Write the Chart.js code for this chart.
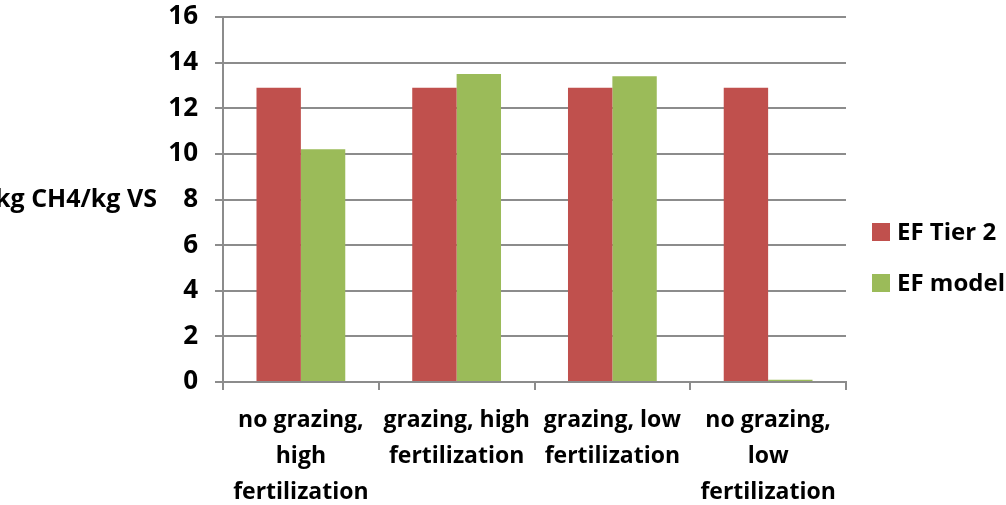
<!DOCTYPE html>
<html lang="en">
<head>
    <meta charset="UTF-8">
    <title>EF Tier 2 vs EF model</title>
    <script src="https://cdn.jsdelivr.net/npm/chart.js@4.4.1/dist/chart.umd.min.js"></script>
    <style>
        html, body {
            margin: 0;
            padding: 0;
            background: #fff;
        }
        .chart-box {
            position: relative;
            width: 1006px;
            height: 505px;
        }
    </style>
</head>
<body>
    <div class="chart-box">
        <canvas id="efChart"></canvas>
    </div>

    <script>
        // data
        const categories = [
            ['no grazing,', 'high', 'fertilization'],
            ['grazing, high', 'fertilization'],
            ['grazing, low', 'fertilization'],
            ['no grazing,', 'low', 'fertilization']
        ];
        const seriesNames = ['EF Tier 2', 'EF model'];
        const efTier2 = [12.9, 12.9, 12.9, 12.9];
        const efModel = [10.2, 13.5, 13.4, 0.1];
        const yTicks = [0, 2, 4, 6, 8, 10, 12, 14, 16];
        const yTitle = 'kg CH4/kg VS';

        const FONT = '"Open Sans", Calibri, Lato, sans-serif';
        const GRID = '#8c8c8c';

        // horizontal axis title on the left
        const sideTitle = {
            id: 'sideTitle',
            afterDraw(chart) {
                const ctx = chart.ctx;
                const y = chart.scales.y.getPixelForValue(8);
                ctx.save();
                ctx.font = 'bold 25px ' + FONT;
                ctx.fillStyle = '#000';
                ctx.textAlign = 'right';
                ctx.textBaseline = 'middle';
                ctx.fillText(yTitle, 157, y);
                ctx.restore();
            }
        };

        // legend on the right side
        const sideLegend = {
            id: 'sideLegend',
            afterDraw(chart) {
                const ctx = chart.ctx;
                const x = chart.chartArea.right + 26;
                ctx.save();
                ctx.font = 'bold 24px ' + FONT;
                ctx.textBaseline = 'middle';
                chart.data.datasets.forEach((ds, i) => {
                    const cy = 232 + i * 51;
                    ctx.fillStyle = ds.backgroundColor;
                    ctx.fillRect(x, cy - 9, 18, 18);
                    ctx.fillStyle = '#000';
                    ctx.fillText(ds.label, x + 25, cy + 1);
                });
                ctx.restore();
            }
        };

        new Chart(document.getElementById('efChart'), {
            type: 'bar',
            data: {
                labels: categories,
                datasets: [
                    {
                        label: seriesNames[0],
                        data: efTier2,
                        backgroundColor: '#c0504d'
                    },
                    {
                        label: seriesNames[1],
                        data: efModel,
                        backgroundColor: '#9bbb59'
                    }
                ]
            },
            options: {
                responsive: true,
                maintainAspectRatio: false,
                animation: false,
                categoryPercentage: 0.57,
                barPercentage: 1.0,
                layout: {
                    padding: { top: 17, right: 160, left: 0, bottom: 0 }
                },
                plugins: {
                    legend: { display: false },
                    tooltip: { enabled: false }
                },
                scales: {
                    x: {
                        offset: true,
                        afterFit(scale) {
                            scale.height = 123;
                            scale.paddingLeft = 0;
                            scale.paddingRight = 0;
                        },
                        grid: {
                            offset: true,
                            drawOnChartArea: false,
                            color: GRID,
                            lineWidth: 2,
                            tickLength: 8
                        },
                        border: { color: GRID, width: 2 },
                        ticks: {
                            color: '#000',
                            padding: 12,
                            maxRotation: 0,
                            autoSkip: false,
                            font: { family: FONT, size: 23, weight: 'bold', lineHeight: 1.57 }
                        }
                    },
                    y: {
                        min: 0,
                        max: 16,
                        afterFit(scale) {
                            scale.width = 223;
                            scale.paddingTop = 0;
                            scale.paddingBottom = 0;
                        },
                        afterBuildTicks(scale) {
                            scale.ticks = yTicks.map(v => ({ value: v }));
                        },
                        grid: {
                            color: GRID,
                            lineWidth: 2,
                            tickLength: 8
                        },
                        border: { color: GRID, width: 2 },
                        ticks: {
                            color: '#000',
                            padding: 17,
                            font: { family: FONT, size: 26, weight: 'bold' }
                        }
                    }
                }
            },
            plugins: [sideTitle, sideLegend]
        });
    </script>
</body>
</html>
